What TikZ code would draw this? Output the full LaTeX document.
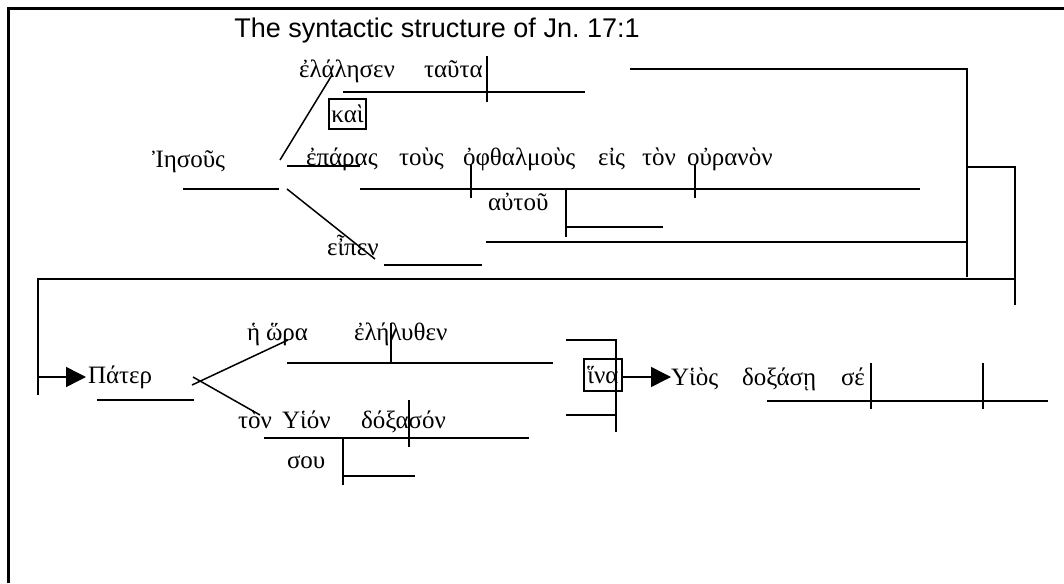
\documentclass[tikz,border=0pt]{standalone}
\usepackage{fontspec}
\setmainfont{Liberation Serif}
\newfontfamily\titlefont{Liberation Sans}
\usetikzlibrary{arrows.meta}
\begin{document}
\begin{tikzpicture}[x=1pt,y=-1pt,line width=1.5pt,
  every node/.style={inner sep=0pt,outer sep=0pt},
  gk/.style={anchor=base west,font=\fontsize{25}{29}\selectfont},
  boxed/.style={draw,line width=1.5pt,minimum width=37pt,minimum height=30pt,font=\fontsize{25}{29}\selectfont},
  frameline/.style={line width=3pt},
  tip/.style={-{Triangle[length=20pt,width=20pt]}}]
\useasboundingbox (0,0) rectangle (1064,583);
% frame
\draw[frameline] (8,583) -- (8,9) -- (1064,9);
% title
\node[anchor=base,font=\titlefont\fontsize{27}{31}\selectfont] (title) at (437,38) {The syntactic structure of Jn.\ 17:1};
% ---- row 1
\node[gk] (elal) at (299,78) {ἐλάλησεν};
\node[gk] (tauta) at (424,78) {ταῦτα};
\draw (343,92) -- (585,92);
\draw (487,56) -- (487,102);
\coordinate (r1a) at (630,69);
\coordinate (r1b) at (967,69);
\coordinate (r1c) at (967,277);
\draw (r1a) -- (r1b) -- (r1c);
\node[boxed] (kai) at (347.5,114) {καὶ};
\draw (280,160) -- (332,75);
% ---- row 2
\node[gk] (iesous) at (152,167) {Ἰησοῦς};
\draw (183,189) -- (279,189);
\node[gk] (eparas) at (306,165) {ἐπάρας};
\draw (287,166) -- (360,166);
\node[gk] (tous) at (399,165) {τοὺς};
\node[gk] (ophth) at (463,165) {ὀφθαλμοὺς};
\node[gk] (eis) at (598,165) {εἰς};
\node[gk] (ton1) at (642,165) {τὸν};
\node[gk] (ouran) at (687,165) {οὐρανὸν};
\draw (360,189) -- (920,189);
\draw (471,165) -- (471,198);
\draw (695,165) -- (695,198);
\node[gk] (autou) at (488,210) {αὐτοῦ};
\draw (566,189) -- (566,237);
\draw (566,227) -- (663,227);
\draw (287,189) -- (375,259);
\node[gk] (eipen) at (327,255) {εἶπεν};
\draw (384,265) -- (482,265);
\draw (486,242) -- (967,242);
\coordinate (r2a) at (967,167);
\coordinate (r2b) at (1015,167);
\coordinate (r2c) at (1015,305);
\draw (r2a) -- (r2b) -- (r2c);
% ---- connection to row 3
\coordinate (bigR) at (1015,279);
\coordinate (bigL) at (38,279);
\coordinate (bigD) at (38,395);
\draw (bigR) -- (bigL) -- (bigD);
\coordinate (pa0) at (38,377);
\coordinate (pa1) at (86,377);
\draw[tip] (pa0) -- (pa1);
% ---- row 3
\node[gk] (pater) at (88,383) {Πάτερ};
\draw (97,400) -- (194,400);
\draw (192,385) -- (288,340);
\draw (193,377) -- (260,415);
\node[gk] (he) at (247,340) {ἡ};
\node[gk] (hora) at (266,340) {ὥρα};
\node[gk] (elel) at (354,340) {ἐλήλυθεν};
\draw (287,363) -- (553,363);
\draw (391,323) -- (391,363);
\node[gk] (ton) at (238,428) {τὸν};
\node[gk] (huion) at (282,428) {Υἱόν};
\node[gk] (dox) at (361,428) {δόξασόν};
\draw (264,438) -- (529,438);
\draw (409,400) -- (409,447);
\node[gk] (sou) at (287,468) {σου};
\draw (343,438) -- (343,485);
\draw (343,476) -- (415,476);
% bracket and hina
\draw (566,340) -- (616,340) -- (616,432);
\draw (566,415) -- (616,415);
\node[boxed,minimum width=38pt,minimum height=32pt] (hina) at (603,375) {ἵνα};
\coordinate (hy) at (671,377);
\draw[tip] (hina.east |- hy) -- (hy);
\node[gk] (huios) at (671,385) {Υἱὸς};
\node[gk] (doxase) at (742,385) {δοξάσῃ};
\node[gk] (se) at (841,385) {σέ};
\draw (767,401) -- (1048,401);
\draw (871,363) -- (871,409);
\draw (983,363) -- (983,409);
\end{tikzpicture}
\end{document}
